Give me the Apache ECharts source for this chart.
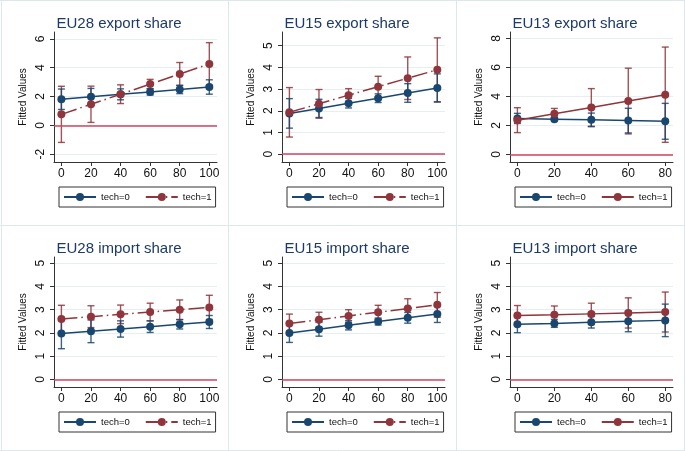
<!DOCTYPE html>
<html><head><meta charset="utf-8">
<script src="https://cdn.jsdelivr.net/npm/echarts@6/dist/echarts.min.js"></script>
<style>html,body{margin:0;padding:0;background:#fff}#c{width:685px;height:451px}</style>
</head><body><div id="c"></div>
<script>
// ---------- DATA ----------
const panelTitles = ['EU28 export share', 'EU15 export share', 'EU13 export share',
                     'EU28 import share', 'EU15 import share', 'EU13 import share'];
const xLong = [0, 20, 40, 60, 80, 100];
const xShort = [0, 20, 40, 60, 80];
const seriesNames = ['tech=0', 'tech=1'];

// EU28 export
const eu28ExpT0   = [1.81, 1.98, 2.15, 2.32, 2.49, 2.66];
const eu28ExpT0Lo = [1.10, 1.40, 1.77, 2.10, 2.20, 2.16];
const eu28ExpT0Hi = [2.52, 2.56, 2.53, 2.54, 2.78, 3.16];
const eu28ExpT1   = [0.76, 1.46, 2.16, 2.86, 3.56, 4.26];
const eu28ExpT1Lo = [-1.19, 0.20, 1.51, 2.53, 2.76, 2.78];
const eu28ExpT1Hi = [2.71, 2.72, 2.81, 3.19, 4.36, 5.74];
// EU15 export
const eu15ExpT0   = [1.88, 2.11, 2.35, 2.58, 2.82, 3.05];
const eu15ExpT0Lo = [1.20, 1.69, 2.13, 2.38, 2.39, 2.40];
const eu15ExpT0Hi = [2.56, 2.53, 2.57, 2.78, 3.25, 3.70];
const eu15ExpT1   = [1.93, 2.32, 2.72, 3.11, 3.50, 3.89];
const eu15ExpT1Lo = [0.79, 1.66, 2.42, 2.63, 2.52, 2.42];
const eu15ExpT1Hi = [3.07, 2.98, 3.02, 3.59, 4.48, 5.36];
// EU13 export
const eu13ExpT0   = [2.48, 2.43, 2.38, 2.33, 2.28];
const eu13ExpT0Lo = [2.13, 2.31, 1.91, 1.48, 1.04];
const eu13ExpT0Hi = [2.83, 2.55, 2.85, 3.18, 3.52];
const eu13ExpT1   = [2.36, 2.80, 3.24, 3.68, 4.12];
const eu13ExpT1Lo = [1.50, 2.43, 1.94, 1.41, 0.83];
const eu13ExpT1Hi = [3.22, 3.17, 4.54, 5.95, 7.41];
// EU28 import
const eu28ImpT0   = [1.97, 2.07, 2.17, 2.27, 2.37, 2.47];
const eu28ImpT0Lo = [1.32, 1.58, 1.82, 2.02, 2.17, 2.19];
const eu28ImpT0Hi = [2.62, 2.56, 2.52, 2.52, 2.57, 2.75];
const eu28ImpT1   = [2.60, 2.70, 2.80, 2.90, 3.00, 3.10];
const eu28ImpT1Lo = [2.01, 2.23, 2.40, 2.52, 2.58, 2.58];
const eu28ImpT1Hi = [3.19, 3.17, 3.20, 3.28, 3.42, 3.62];
// EU15 import
const eu15ImpT0   = [2.00, 2.16, 2.33, 2.49, 2.65, 2.81];
const eu15ImpT0Lo = [1.59, 1.86, 2.13, 2.34, 2.42, 2.45];
const eu15ImpT0Hi = [2.41, 2.46, 2.53, 2.64, 2.88, 3.17];
const eu15ImpT1   = [2.41, 2.57, 2.73, 2.89, 3.05, 3.21];
const eu15ImpT1Lo = [2.01, 2.25, 2.46, 2.59, 2.63, 2.68];
const eu15ImpT1Hi = [2.81, 2.89, 3.00, 3.19, 3.47, 3.74];
// EU13 import
const eu13ImpT0   = [2.37, 2.41, 2.46, 2.50, 2.54];
const eu13ImpT0Lo = [2.01, 2.24, 2.21, 2.05, 1.84];
const eu13ImpT0Hi = [2.73, 2.58, 2.71, 2.95, 3.24];
const eu13ImpT1   = [2.75, 2.78, 2.82, 2.86, 2.90];
const eu13ImpT1Lo = [2.32, 2.40, 2.36, 2.21, 2.04];
const eu13ImpT1Hi = [3.18, 3.16, 3.28, 3.51, 3.76];

// tick labels
const yTicks1 = [-2, 0, 2, 4, 6];
const yTicks2 = [0, 1, 2, 3, 4, 5];
const yTicks3 = [0, 2, 4, 6, 8];
const yTicksImp = [0, 1, 2, 3, 4, 5];

// ---------- LAYOUT / STYLE ----------
const panels = [
  {x: xLong,  t0: eu28ExpT0, t0lo: eu28ExpT0Lo, t0hi: eu28ExpT0Hi, t1: eu28ExpT1, t1lo: eu28ExpT1Lo, t1hi: eu28ExpT1Hi, yt: yTicks1, ymin: -2.55, ymax: 6.48, xmin: -5, xmax: 105.2, dashed: true},
  {x: xLong,  t0: eu15ExpT0, t0lo: eu15ExpT0Lo, t0hi: eu15ExpT0Hi, t1: eu15ExpT1, t1lo: eu15ExpT1Lo, t1hi: eu15ExpT1Hi, yt: yTicks2, ymin: -0.36, ymax: 5.63, xmin: -5, xmax: 105.2, dashed: true},
  {x: xShort, t0: eu13ExpT0, t0lo: eu13ExpT0Lo, t0hi: eu13ExpT0Hi, t1: eu13ExpT1, t1lo: eu13ExpT1Lo, t1hi: eu13ExpT1Hi, yt: yTicks3, ymin: -0.53, ymax: 8.45, xmin: -4, xmax: 84.2, dashed: false},
  {x: xLong,  t0: eu28ImpT0, t0lo: eu28ImpT0Lo, t0hi: eu28ImpT0Hi, t1: eu28ImpT1, t1lo: eu28ImpT1Lo, t1hi: eu28ImpT1Hi, yt: yTicksImp, ymin: -0.33, ymax: 5.27, xmin: -5, xmax: 105.2, dashed: true},
  {x: xLong,  t0: eu15ImpT0, t0lo: eu15ImpT0Lo, t0hi: eu15ImpT0Hi, t1: eu15ImpT1, t1lo: eu15ImpT1Lo, t1hi: eu15ImpT1Hi, yt: yTicksImp, ymin: -0.33, ymax: 5.27, xmin: -5, xmax: 105.2, dashed: true},
  {x: xShort, t0: eu13ImpT0, t0lo: eu13ImpT0Lo, t0hi: eu13ImpT0Hi, t1: eu13ImpT1, t1lo: eu13ImpT1Lo, t1hi: eu13ImpT1Hi, yt: yTicksImp, ymin: -0.33, ymax: 5.27, xmin: -4, xmax: 84.2, dashed: false}
];
const colX = [0, 228, 456];
const rowY = [0, 225];
const BLUE = '#1a476f', RED = '#90353b', ZERO = '#d0455f';
const FONT = '"Liberation Sans", Arial, Helvetica, sans-serif';

const chart = echarts.init(document.getElementById('c'), null, {renderer: 'canvas'});
const grids = [], xAxes = [], yAxes = [], series = [], legends = [], titles = [];

function errBar(color) {
  return function (params, api) {
    const x = api.value(0), lo = api.value(1), hi = api.value(2);
    const a = api.coord([x, lo]), b = api.coord([x, hi]);
    const cw = 3.5;
    const st = {stroke: color, lineWidth: 1.4, opacity: 0.85};
    return {type: 'group', children: [
      {type: 'line', shape: {x1: a[0], y1: a[1], x2: b[0], y2: b[1]}, style: st},
      {type: 'line', shape: {x1: a[0] - cw, y1: a[1], x2: a[0] + cw, y2: a[1]}, style: st},
      {type: 'line', shape: {x1: b[0] - cw, y1: b[1], x2: b[0] + cw, y2: b[1]}, style: st}
    ]};
  };
}

panels.forEach((p, i) => {
  const c = i % 3, r = Math.floor(i / 3);
  const x0 = colX[c], y0 = rowY[r];
  grids.push({left: x0 + 54, top: y0 + 32, width: 163, height: 130, containLabel: false});
  titles.push({text: panelTitles[i], left: x0 + 114, top: y0 + 11, textAlign: 'center',
    textStyle: {fontFamily: FONT, fontSize: 15, fontWeight: 'normal', color: '#1c3a6b'}});
  xAxes.push({type: 'value', gridIndex: i, min: p.xmin, max: p.xmax,
    axisLine: {show: true, onZero: false, lineStyle: {color: '#333', width: 1}},
    axisTick: {show: true, length: 4, customValues: p.x, lineStyle: {color: '#333'}},
    axisLabel: {customValues: p.x, fontFamily: FONT, fontSize: 12, color: '#111', margin: 6},
    splitLine: {show: false}});
  yAxes.push({type: 'value', gridIndex: i, min: p.ymin, max: p.ymax,
    name: 'Fitted Values', nameLocation: 'middle', nameGap: 26, nameRotate: 90,
    nameTextStyle: {fontFamily: FONT, fontSize: 10, color: '#111'},
    axisLine: {show: true, onZero: false, lineStyle: {color: '#333', width: 1}},
    axisTick: {show: true, length: 4, customValues: p.yt, lineStyle: {color: '#333'}},
    axisLabel: {customValues: p.yt, rotate: 90, fontFamily: FONT, fontSize: 12, color: '#111', margin: 7},
    splitLine: {show: true, lineStyle: {color: '#e6eef1', width: 1}}});
  const suf = '|' + i;
  series.push({type: 'custom', xAxisIndex: i, yAxisIndex: i, renderItem: errBar(RED), z: 2,
    encode: {x: 0, y: [1, 2]}, data: p.x.map((v, k) => [v, p.t1lo[k], p.t1hi[k]])});
  series.push({type: 'custom', xAxisIndex: i, yAxisIndex: i, renderItem: errBar(BLUE), z: 3,
    encode: {x: 0, y: [1, 2]}, data: p.x.map((v, k) => [v, p.t0lo[k], p.t0hi[k]])});
  series.push({type: 'line', name: seriesNames[0] + suf, xAxisIndex: i, yAxisIndex: i, z: 4,
    data: p.x.map((v, k) => [v, p.t0[k]]), symbol: 'circle', symbolSize: 8,
    lineStyle: {color: BLUE, width: 1.5}, itemStyle: {color: BLUE}, animation: false,
    markLine: {silent: true, symbol: 'none', label: {show: false},
      lineStyle: {color: ZERO, width: 1.5, type: 'solid'}, data: [{yAxis: 0}]}});
  series.push({type: 'line', name: seriesNames[1] + suf, xAxisIndex: i, yAxisIndex: i, z: 5,
    data: p.x.map((v, k) => [v, p.t1[k]]), symbol: 'circle', symbolSize: 8,
    lineStyle: {color: RED, width: 1.5, type: p.dashed ? [16, 4, 1.5, 4] : 'solid'},
    itemStyle: {color: RED}, animation: false});
  legends.push({left: x0 + 59, top: y0 + 187, orient: 'horizontal',
    data: [seriesNames[0] + suf, seriesNames[1] + suf],
    formatter: n => n.split('|')[0], itemWidth: 32, itemHeight: 10, itemGap: 15,
    padding: [5, 4, 5, 4], borderColor: '#333', borderWidth: 1, borderRadius: 0,
    backgroundColor: '#fff', selectedMode: false,
    textStyle: {fontFamily: FONT, fontSize: 9.5, color: '#111'}});
});

// panel frames (decoration)
const frameColor = '#dde8ed';
const graphics = [
  {type: 'line', shape: {x1: 1.5, y1: 0, x2: 1.5, y2: 451}},
  {type: 'line', shape: {x1: 228.5, y1: 0, x2: 228.5, y2: 451}},
  {type: 'line', shape: {x1: 456.5, y1: 0, x2: 456.5, y2: 451}},
  {type: 'line', shape: {x1: 684.5, y1: 0, x2: 684.5, y2: 451}},
  {type: 'line', shape: {x1: 0, y1: 0.5, x2: 685, y2: 0.5}},
  {type: 'line', shape: {x1: 0, y1: 225.5, x2: 685, y2: 225.5}},
  {type: 'line', shape: {x1: 0, y1: 450.5, x2: 685, y2: 450.5}}
].map(g => Object.assign(g, {style: {stroke: frameColor, lineWidth: 1}, silent: true, z: -10}));

chart.setOption({
  animation: false,
  backgroundColor: '#fff',
  title: titles, grid: grids, xAxis: xAxes, yAxis: yAxes, series: series,
  legend: legends, graphic: graphics
});
</script></body></html>
